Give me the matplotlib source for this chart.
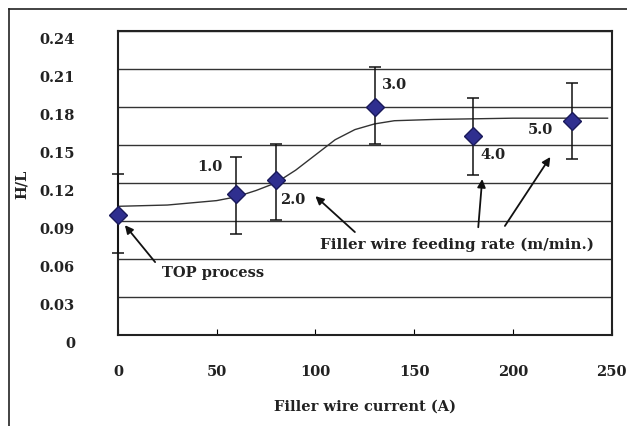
import matplotlib
matplotlib.use("Agg")
import matplotlib.pyplot as plt
from matplotlib.lines import Line2D
from matplotlib.transforms import ScaledTranslation

# Data
current = [0, 60, 80, 130, 180, 230]
hl = [0.095, 0.111, 0.122, 0.180, 0.157, 0.169]
err_hi = [0.032, 0.029, 0.029, 0.031, 0.030, 0.030]
err_lo = [0.030, 0.031, 0.031, 0.029, 0.031, 0.030]
rate_labels = ["", "1.0", "2.0", "3.0", "4.0", "5.0"]

fit_x = [0, 25, 50, 60, 70, 80, 90, 100, 110, 120, 130, 140, 160, 180, 200, 248]
fit_y = [0.1015, 0.1025, 0.106, 0.109, 0.114, 0.120, 0.130, 0.142, 0.154, 0.162,
         0.1665, 0.169, 0.170, 0.1705, 0.171, 0.171]

yticks = [0, 0.03, 0.06, 0.09, 0.12, 0.15, 0.18, 0.21, 0.24]
ytick_labels = ["0", "0.03", "0.06", "0.09", "0.12", "0.15", "0.18", "0.21", "0.24"]
xticks = [0, 50, 100, 150, 200, 250]

plt.rcParams['font.family'] = ['DejaVu Serif']
plt.rcParams['font.weight'] = 'bold'
plt.rcParams['axes.labelweight'] = 'bold'

fig = plt.figure(figsize=(6.27, 4.27), dpi=100)
ax = fig.add_axes([118/627, 1-336/427, (611.5-118)/627, (336-31.7)/427])

# Outer frame lines (left and top)
fig.add_artist(Line2D([9/627, 9/627], [0, 1-10/427], color='#222222', lw=1.2,
                      transform=fig.transFigure))
fig.add_artist(Line2D([9/627, 1], [1-10/427, 1-10/427], color='#222222', lw=1.2,
                      transform=fig.transFigure))

ax.set_xlim(0, 250)
ax.set_ylim(0, 0.24)
ax.set_yticks(yticks)
ax.set_yticklabels(ytick_labels)
ax.set_xticks(xticks)
ax.yaxis.grid(True, color='#333333', lw=1.0)
ax.set_axisbelow(True)
for s in ax.spines.values():
    s.set_linewidth(1.5)
    s.set_color('#222222')

ax.tick_params(axis='y', length=0, pad=31, labelsize=10.5, labelcolor='#222222')
ax.tick_params(axis='x', direction='in', length=4, pad=21, labelsize=10.5,
               labelcolor='#222222')
off = ScaledTranslation(0, -7/100, fig.dpi_scale_trans)
for lab in ax.get_yticklabels():
    lab.set_transform(lab.get_transform() + off)

ax.plot(fit_x, fit_y, color='#333333', lw=1.0, zorder=3)
ax.errorbar(current, hl, yerr=[err_lo, err_hi], fmt='none', ecolor='#111111',
            elinewidth=1.1, capsize=4, capthick=1.1, zorder=4, clip_on=False)
ax.plot(current, hl, 'D', ms=9.5, mfc='#2f2f8f', mec='#1a1a5a', mew=1,
        zorder=5, clip_on=False)

fs = 10.5
tc = '#222222'
ax.text(46.5, 0.133, rate_labels[1], ha='center', va='center', fontsize=fs, color=tc)
ax.text(88.5, 0.107, rate_labels[2], ha='center', va='center', fontsize=fs, color=tc)
ax.text(140, 0.198, rate_labels[3], ha='center', va='center', fontsize=fs, color=tc)
ax.text(190, 0.143, rate_labels[4], ha='center', va='center', fontsize=fs, color=tc)
ax.text(214, 0.1625, rate_labels[5], ha='center', va='center', fontsize=fs, color=tc)

ax.text(22.5, 0.0497, "TOP process", ha='left', va='center', fontsize=fs, color=tc)
ax.text(171.5, 0.0718, "Filler wire feeding rate (m/min.)", ha='center',
        va='center', fontsize=10.8, color=tc)

aprops = dict(arrowstyle='-|>', color='#111111', lw=1.3, mutation_scale=12,
              shrinkA=0, shrinkB=0)
ax.annotate("", xy=(3.5, 0.0866), xytext=(18.8, 0.0575), arrowprops=aprops)
ax.annotate("", xy=(100, 0.1095), xytext=(120, 0.0812), arrowprops=aprops)
ax.annotate("", xy=(184.5, 0.1230), xytext=(182.5, 0.0850), arrowprops=aprops)
ax.annotate("", xy=(219, 0.1404), xytext=(196, 0.0860), arrowprops=aprops)

ax.set_xlabel("Filler wire current (A)", fontsize=10.5, color=tc)
ax.xaxis.set_label_coords(0.5, -0.21)
ax.set_ylabel("H/L", fontsize=10.5, color=tc)
ax.yaxis.set_label_coords(-0.18, 0.5)

fig.savefig("out.png", dpi=100)
